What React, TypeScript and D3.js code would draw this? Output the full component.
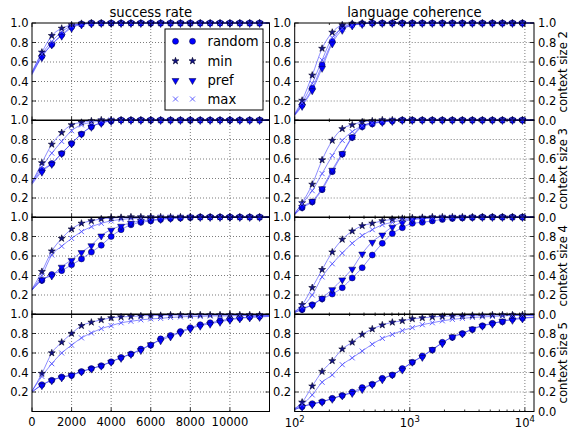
import React from 'react';
import * as d3 from 'd3';

const LIN_X = [0, 500, 1000, 1500, 2000, 2500, 3000, 3500, 4000, 4500, 5000, 5500, 6000, 6500, 7000, 7500, 8000, 8500, 9000, 9500, 10000, 10500, 11000, 11500, 12000];
const LOG_X = [100, 116, 142, 173, 212, 259, 316, 386, 472, 577, 705, 861, 1052, 1285, 1570, 1918, 2344, 2864, 3499, 4275, 5223, 6381, 7797, 9526, 12000];

const SERIES_NAMES = ['random', 'min', 'pref', 'max'];
const ROW_LABELS = ['context size 2', 'context size 3', 'context size 4', 'context size 5'];
const TITLES = ['success rate', 'language coherence'];
const LIN_TICKS = [0, 2000, 4000, 6000, 8000, 10000];
const LOG_MAJOR = [100, 1000, 10000];
const LOG_MINOR = [200, 300, 400, 500, 600, 700, 800, 900, 2000, 3000, 4000, 5000, 6000, 7000, 8000, 9000];
const LOG_LABEL_EXP = ['2', '3', '4'];
const Y_TICKS = [0, 0.2, 0.4, 0.6, 0.8, 1.0];

// success rate (linear x)
const SR_C2_RANDOM = [0.48, 0.66, 0.78, 0.88, 0.96, 0.99, 1, 1, 1, 1, 1, 1, 1, 1, 1, 1, 1, 1, 1, 1, 1, 1, 1, 1, 1];
const SR_C2_MIN = [0.50, 0.70, 0.87, 0.945, 0.98, 0.995, 1, 1, 1, 1, 1, 1, 1, 1, 1, 1, 1, 1, 1, 1, 1, 1, 1, 1, 1];
const SR_C2_PREF = [0.47, 0.65, 0.78, 0.87, 0.95, 0.985, 0.995, 1, 1, 1, 1, 1, 1, 1, 1, 1, 1, 1, 1, 1, 1, 1, 1, 1, 1];
const SR_C2_MAX = [0.49, 0.68, 0.81, 0.91, 0.97, 0.99, 1, 1, 1, 1, 1, 1, 1, 1, 1, 1, 1, 1, 1, 1, 1, 1, 1, 1, 1];

const SR_C3_RANDOM = [0.35, 0.485, 0.553, 0.656, 0.76, 0.856, 0.93, 0.973, 0.99, 1, 1, 1, 1, 1, 1, 1, 1, 1, 1, 1, 1, 1, 1, 1, 1];
const SR_C3_MIN = [0.36, 0.56, 0.75, 0.87, 0.95, 0.975, 0.99, 1, 1, 1, 1, 1, 1, 1, 1, 1, 1, 1, 1, 1, 1, 1, 1, 1, 1];
const SR_C3_PREF = [0.34, 0.47, 0.55, 0.66, 0.76, 0.86, 0.93, 0.97, 0.99, 1, 1, 1, 1, 1, 1, 1, 1, 1, 1, 1, 1, 1, 1, 1, 1];
const SR_C3_MAX = [0.36, 0.52, 0.66, 0.78, 0.89, 0.95, 0.975, 0.99, 1, 1, 1, 1, 1, 1, 1, 1, 1, 1, 1, 1, 1, 1, 1, 1, 1];

const SR_C4_RANDOM = [0.25, 0.35, 0.41, 0.45, 0.51, 0.57, 0.64, 0.71, 0.80, 0.87, 0.92, 0.945, 0.96, 0.975, 0.985, 0.99, 0.995, 1, 1, 1, 1, 1, 1, 1, 1];
const SR_C4_MIN = [0.26, 0.44, 0.65, 0.78, 0.876, 0.935, 0.96, 0.98, 0.99, 0.995, 1, 1, 1, 1, 1, 1, 1, 1, 1, 1, 1, 1, 1, 1, 1];
const SR_C4_PREF = [0.25, 0.36, 0.40, 0.49, 0.56, 0.64, 0.71, 0.81, 0.87, 0.91, 0.94, 0.96, 0.97, 0.98, 0.99, 0.995, 1, 1, 1, 1, 1, 1, 1, 1, 1];
const SR_C4_MAX = [0.26, 0.40, 0.61, 0.70, 0.78, 0.85, 0.90, 0.935, 0.96, 0.975, 0.985, 0.99, 0.995, 1, 1, 1, 1, 1, 1, 1, 1, 1, 1, 1, 1];

const SR_C5_RANDOM = [0.20, 0.275, 0.32, 0.355, 0.37, 0.41, 0.44, 0.47, 0.51, 0.555, 0.59, 0.64, 0.68, 0.745, 0.78, 0.82, 0.86, 0.89, 0.91, 0.93, 0.95, 0.96, 0.97, 0.975, 0.98];
const SR_C5_MIN = [0.21, 0.39, 0.60, 0.71, 0.80, 0.88, 0.915, 0.94, 0.96, 0.97, 0.975, 0.98, 0.985, 0.985, 0.99, 0.99, 0.99, 0.99, 0.99, 0.99, 0.99, 0.99, 0.99, 0.99, 0.99];
const SR_C5_PREF = [0.20, 0.27, 0.32, 0.35, 0.375, 0.41, 0.44, 0.47, 0.51, 0.55, 0.59, 0.63, 0.69, 0.73, 0.77, 0.81, 0.85, 0.88, 0.90, 0.92, 0.94, 0.955, 0.965, 0.97, 0.975];
const SR_C5_MAX = [0.21, 0.36, 0.49, 0.60, 0.68, 0.755, 0.805, 0.85, 0.88, 0.91, 0.925, 0.94, 0.95, 0.955, 0.965, 0.97, 0.975, 0.975, 0.98, 0.98, 0.98, 0.985, 0.985, 0.985, 0.985];

// language coherence (log x)
const LC_C2_RANDOM = [0.06, 0.16, 0.33, 0.57, 0.81, 0.955, 0.985, 0.995, 1, 1, 1, 1, 1, 1, 1, 1, 1, 1, 1, 1, 1, 1, 1, 1, 1];
const LC_C2_MIN = [0.07, 0.206, 0.464, 0.739, 0.904, 0.98, 0.995, 1, 1, 1, 1, 1, 1, 1, 1, 1, 1, 1, 1, 1, 1, 1, 1, 1, 1];
const LC_C2_PREF = [0.05, 0.15, 0.31, 0.54, 0.79, 0.93, 0.975, 0.99, 1, 1, 1, 1, 1, 1, 1, 1, 1, 1, 1, 1, 1, 1, 1, 1, 1];
const LC_C2_MAX = [0.06, 0.18, 0.38, 0.62, 0.85, 0.94, 0.98, 0.99, 1, 1, 1, 1, 1, 1, 1, 1, 1, 1, 1, 1, 1, 1, 1, 1, 1];

const LC_C3_RANDOM = [0.03, 0.10, 0.16, 0.285, 0.47, 0.65, 0.82, 0.93, 0.96, 0.98, 0.99, 1, 1, 1, 1, 1, 1, 1, 1, 1, 1, 1, 1, 1, 1];
const LC_C3_MIN = [0.04, 0.15, 0.34, 0.59, 0.79, 0.91, 0.95, 0.98, 0.99, 1, 1, 1, 1, 1, 1, 1, 1, 1, 1, 1, 1, 1, 1, 1, 1];
const LC_C3_PREF = [0.03, 0.11, 0.17, 0.30, 0.49, 0.66, 0.83, 0.94, 0.97, 0.98, 0.99, 1, 1, 1, 1, 1, 1, 1, 1, 1, 1, 1, 1, 1, 1];
const LC_C3_MAX = [0.04, 0.14, 0.275, 0.45, 0.635, 0.79, 0.88, 0.94, 0.97, 0.99, 1, 1, 1, 1, 1, 1, 1, 1, 1, 1, 1, 1, 1, 1, 1];

const LC_C4_RANDOM = [0.02, 0.05, 0.10, 0.16, 0.21, 0.275, 0.375, 0.48, 0.61, 0.73, 0.83, 0.89, 0.935, 0.945, 0.96, 0.975, 0.985, 0.99, 0.995, 1, 1, 1, 1, 1, 1];
const LC_C4_MIN = [0.03, 0.10, 0.275, 0.46, 0.64, 0.77, 0.855, 0.91, 0.935, 0.96, 0.975, 0.985, 0.99, 0.995, 1, 1, 1, 1, 1, 1, 1, 1, 1, 1, 1];
const LC_C4_PREF = [0.02, 0.06, 0.10, 0.17, 0.26, 0.36, 0.47, 0.625, 0.745, 0.82, 0.90, 0.945, 0.975, 0.98, 0.99, 0.995, 1, 1, 1, 1, 1, 1, 1, 1, 1];
const LC_C4_MAX = [0.03, 0.08, 0.20, 0.385, 0.52, 0.63, 0.73, 0.81, 0.87, 0.92, 0.945, 0.97, 0.98, 0.99, 0.995, 1, 1, 1, 1, 1, 1, 1, 1, 1, 1];

const LC_C5_RANDOM = [0.02, 0.05, 0.08, 0.10, 0.135, 0.165, 0.20, 0.245, 0.28, 0.34, 0.375, 0.44, 0.505, 0.57, 0.63, 0.71, 0.76, 0.80, 0.84, 0.88, 0.905, 0.92, 0.95, 0.96, 0.97];
const LC_C5_MIN = [0.03, 0.095, 0.26, 0.41, 0.52, 0.64, 0.71, 0.79, 0.846, 0.887, 0.915, 0.93, 0.95, 0.96, 0.97, 0.975, 0.98, 0.98, 0.985, 0.985, 0.99, 0.99, 0.99, 0.99, 0.99];
const LC_C5_PREF = [0.02, 0.05, 0.075, 0.10, 0.13, 0.165, 0.19, 0.23, 0.28, 0.33, 0.38, 0.43, 0.51, 0.56, 0.64, 0.70, 0.77, 0.80, 0.85, 0.88, 0.90, 0.93, 0.94, 0.955, 0.965];
const LC_C5_MAX = [0.03, 0.07, 0.17, 0.30, 0.375, 0.48, 0.55, 0.62, 0.69, 0.75, 0.79, 0.83, 0.86, 0.89, 0.91, 0.93, 0.945, 0.955, 0.965, 0.97, 0.975, 0.98, 0.985, 0.985, 0.985];

const SUCCESS = [
  [SR_C2_RANDOM, SR_C2_MIN, SR_C2_PREF, SR_C2_MAX],
  [SR_C3_RANDOM, SR_C3_MIN, SR_C3_PREF, SR_C3_MAX],
  [SR_C4_RANDOM, SR_C4_MIN, SR_C4_PREF, SR_C4_MAX],
  [SR_C5_RANDOM, SR_C5_MIN, SR_C5_PREF, SR_C5_MAX],
];
const COHERENCE = [
  [LC_C2_RANDOM, LC_C2_MIN, LC_C2_PREF, LC_C2_MAX],
  [LC_C3_RANDOM, LC_C3_MIN, LC_C3_PREF, LC_C3_MAX],
  [LC_C4_RANDOM, LC_C4_MIN, LC_C4_PREF, LC_C4_MAX],
  [LC_C5_RANDOM, LC_C5_MIN, LC_C5_PREF, LC_C5_MAX],
];

const W = 568;
const H = 435;
const ROW_TOPS = [23, 120, 217, 314];
const ROW_H = 97.5;
const FONT = 'DejaVu Sans, sans-serif';
const BLUE = '#0000ff';

const xLin = d3.scaleLinear().domain([0, 12000]).range([32, 269.5]);
const xLog = d3.scaleLog().domain([100, 12000]).range([294.7, 534]);

const starPath = d3.symbol().type(d3.symbolStar).size(15)() as string;
const triPath = d3.symbol().type(d3.symbolTriangle).size(21)() as string;

function Marker({ kind, x, y }: { kind: number; x: number; y: number }) {
  if (kind === 0) {
    return <circle cx={x} cy={y} r={3} fill={BLUE} stroke="#000033" strokeWidth={0.5} />;
  }
  if (kind === 1) {
    return <path d={starPath} transform={`translate(${x},${y})`} fill="#12128a" stroke="#000020" strokeWidth={0.6} />;
  }
  if (kind === 2) {
    return <path d={triPath} transform={`translate(${x},${y + 0.5}) rotate(180)`} fill={BLUE} stroke="#000033" strokeWidth={0.5} />;
  }
  const s = 2.5;
  return (
    <path
      d={`M${x - s},${y - s}L${x + s},${y + s}M${x - s},${y + s}L${x + s},${y - s}`}
      stroke="#5050ff"
      strokeWidth={0.9}
      fill="none"
    />
  );
}

function Panel({ row, side }: { row: number; side: number }) {
  const top = ROW_TOPS[row];
  const y = d3.scaleLinear().domain([0, 1]).range([top + ROW_H, top]);
  const xs = side === 0 ? LIN_X : LOG_X;
  const x = side === 0 ? xLin : xLog;
  const [x0, x1] = x.range();
  const data = side === 0 ? SUCCESS[row] : COHERENCE[row];
  const line = d3
    .line<number>()
    .x((_, i) => x(xs[i]))
    .y((d) => y(d))
    .curve(d3.curveMonotoneX);

  const gridX = side === 0 ? LIN_TICKS.filter((t) => t > 0) : LOG_MAJOR.filter((t) => t > 100);
  const majorX = side === 0 ? LIN_TICKS : LOG_MAJOR;
  const minorX = side === 0 ? [] : LOG_MINOR;
  const bottom = top + ROW_H;

  return (
    <g>
      {gridX.map((t) => (
        <line key={'gx' + t} x1={x(t)} x2={x(t)} y1={top} y2={bottom} stroke="#444" strokeWidth={0.7} strokeDasharray="1,2" />
      ))}
      {[0.2, 0.4, 0.6, 0.8].map((t) => (
        <line key={'gy' + t} x1={x0} x2={x1} y1={y(t)} y2={y(t)} stroke="#444" strokeWidth={0.7} strokeDasharray="1,2" />
      ))}
      {data.map((vals, si) => (
        <path key={'l' + si} d={line(vals) as string} fill="none" stroke={BLUE} strokeOpacity={0.45} strokeWidth={1} />
      ))}
      {data.map((vals, si) =>
        vals.map((v, i) =>
          i === 0 || i === vals.length - 1 ? null : <Marker key={'m' + si + '-' + i} kind={si} x={x(xs[i])} y={y(v)} />
        )
      )}
      {majorX.map((t) => (
        <g key={'tx' + t}>
          <line x1={x(t)} x2={x(t)} y1={top} y2={top + 4} stroke="#000" strokeWidth={0.8} />
          <line x1={x(t)} x2={x(t)} y1={bottom} y2={bottom - 4} stroke="#000" strokeWidth={0.8} />
        </g>
      ))}
      {minorX.map((t) => (
        <g key={'mx' + t}>
          <line x1={x(t)} x2={x(t)} y1={top} y2={top + 2} stroke="#000" strokeWidth={0.8} />
          <line x1={x(t)} x2={x(t)} y1={bottom} y2={bottom - 2} stroke="#000" strokeWidth={0.8} />
        </g>
      ))}
      {Y_TICKS.map((t) => (
        <g key={'ty' + t}>
          <line x1={x0} x2={x0 + 4} y1={y(t)} y2={y(t)} stroke="#000" strokeWidth={0.8} />
          <line x1={x1} x2={x1 - 4} y1={y(t)} y2={y(t)} stroke="#000" strokeWidth={0.8} />
        </g>
      ))}
      <rect x={x0} y={top} width={x1 - x0} height={ROW_H} fill="none" stroke="#000" strokeWidth={1} />
      {Y_TICKS.filter((t) => t > 0).map((t) => (
        <text key={'yl' + t} x={x0 - 3.5} y={y(t)} dy="0.36em" textAnchor="end" fontSize={11.5} fontFamily={FONT}>
          {t.toFixed(1)}
        </text>
      ))}
      {side === 1 &&
        Y_TICKS.filter((t) => t < 1 || row === 0).map((t) => (
          <text key={'yr' + t} x={x1 + 4} y={y(t)} dy="0.36em" textAnchor="start" fontSize={11.5} fontFamily={FONT}>
            {t.toFixed(1)}
          </text>
        ))}
      {side === 1 && (
        <text
          transform={`translate(566.5,${top + ROW_H / 2}) rotate(-90)`}
          textAnchor="middle"
          fontSize={11.7}
          fontFamily={FONT}
        >
          {ROW_LABELS[row]}
        </text>
      )}
      {row === 3 && side === 0 &&
        LIN_TICKS.map((t) => (
          <text key={'xl' + t} x={x(t)} y={bottom + 14} textAnchor="middle" fontSize={11.5} fontFamily={FONT}>
            {String(t)}
          </text>
        ))}
      {row === 3 && side === 1 &&
        LOG_MAJOR.map((t, i) => (
          <text key={'xl' + t} x={x(t)} y={bottom + 15.5} textAnchor="middle" fontSize={11.5} fontFamily={FONT}>
            10
            <tspan dy={-5} fontSize={8.5}>
              {LOG_LABEL_EXP[i]}
            </tspan>
          </text>
        ))}
    </g>
  );
}

function Legend() {
  const lx = 165;
  const ly = 29;
  const rows = [41.3, 61, 80, 99];
  return (
    <g>
      <rect x={lx} y={ly} width={98} height={81} fill="#fff" stroke="#000" strokeWidth={1} />
      {SERIES_NAMES.map((name, i) => (
        <g key={name}>
          <Marker kind={i} x={175.5} y={rows[i]} />
          <Marker kind={i} x={192.5} y={rows[i]} />
          <text x={207.5} y={rows[i]} dy="0.36em" fontSize={13.2} fontFamily={FONT}>
            {name}
          </text>
        </g>
      ))}
    </g>
  );
}

export default function App() {
  return (
    <svg
      width={W}
      height={H}
      viewBox={`0 0 ${W} ${H}`}
      style={{ position: 'absolute', left: 0, top: 0, background: '#fff' }}
    >
      <rect x={0} y={0} width={W} height={H} fill="#fff" />
      {[0, 1, 2, 3].map((r) => (
        <g key={r}>
          <Panel row={r} side={0} />
          <Panel row={r} side={1} />
        </g>
      ))}
      <text x={(xLin.range()[0] + xLin.range()[1]) / 2} y={17} textAnchor="middle" fontSize={13.2} fontFamily={FONT}>
        {TITLES[0]}
      </text>
      <text x={(xLog.range()[0] + xLog.range()[1]) / 2} y={17} textAnchor="middle" fontSize={13.2} fontFamily={FONT}>
        {TITLES[1]}
      </text>
      <Legend />
    </svg>
  );
}
